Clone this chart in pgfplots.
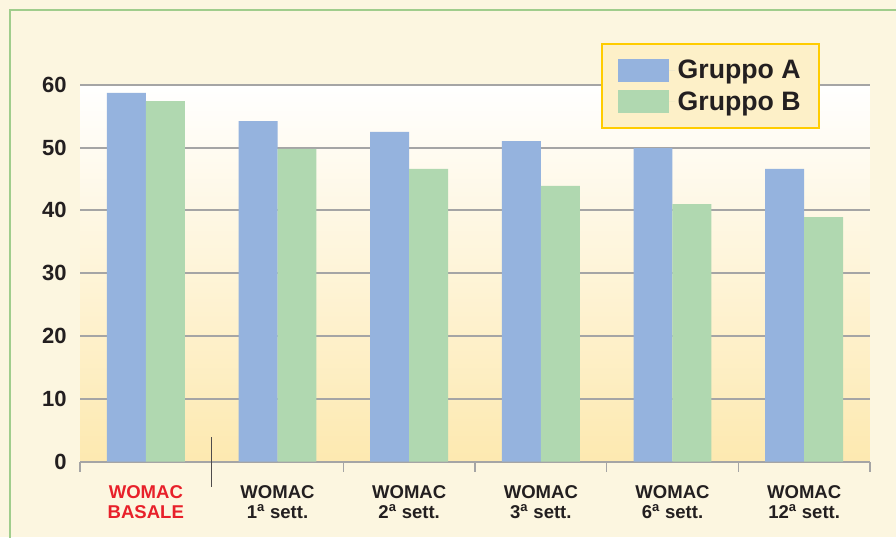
\documentclass[border=0pt]{standalone}
\usepackage{pgfplots}
\pgfplotsset{compat=1.18}
\usepackage{fontspec}
\setmainfont{Liberation Sans}
\definecolor{cream}{RGB}{252,246,224}
\definecolor{framegreen}{RGB}{160,205,140}
\definecolor{barA}{RGB}{149,179,222}
\definecolor{barB}{RGB}{176,216,176}
\definecolor{gridgray}{RGB}{165,165,165}
\definecolor{plotbottom}{RGB}{253,233,176}
\definecolor{legfill}{RGB}{253,240,200}
\definecolor{legborder}{RGB}{255,204,0}
\definecolor{txt}{RGB}{35,31,32}
\definecolor{womacred}{RGB}{232,32,42}
\begin{document}
\begin{tikzpicture}
\fill[cream] (0,0) rectangle (672pt,402.75pt);
\draw[framegreen,line width=1.5pt] (7.5pt,-2pt) -- (7.5pt,395.25pt) -- (674pt,395.25pt);
\begin{axis}[
  at={(60pt,56.625pt)}, anchor=south west,
  scale only axis, width=592.5pt, height=282.6pt,
  xmin=-0.5, xmax=5.5, ymin=0, ymax=60,
  ybar=0pt, bar width=0.296,
  axis x line*=bottom, axis y line*=left,
  y axis line style={draw=none},
  x axis line style={draw=gridgray,line width=1pt,-},
  axis background/.style={shade, top color=white, bottom color=plotbottom},
  ytick={0,10,...,60},
  ymajorgrids, grid style={gridgray,line width=1.5pt},
  xtick={0,...,5},
  minor xtick={-0.5,0.5,...,5.5},
  tick align=outside,
  major tick length=0pt, minor tick length=7.5pt,
  minor tick style={gridgray,line width=1pt},
  xticklabels={{\textcolor{womacred}{WOMAC}\\\textcolor{womacred}{BASALE}},
    {WOMAC\\1\textsuperscript{a} sett.},
    {WOMAC\\2\textsuperscript{a} sett.},
    {WOMAC\\3\textsuperscript{a} sett.},
    {WOMAC\\6\textsuperscript{a} sett.},
    {WOMAC\\12\textsuperscript{a} sett.}},
  xticklabel style={align=center, font=\fontsize{13.9}{15}\selectfont\bfseries, text=txt, yshift=-14.75pt},
  yticklabel style={font=\fontsize{16.5}{18}\selectfont\bfseries, text=txt, xshift=-6.5pt},
  /pgf/number format/assume math mode=true,
  clip=false,
  legend style={at={(0.6595,1.1107)}, anchor=north west, fill=legfill, draw=legborder,
    line width=1.5pt, font=\fontsize{20}{24}\selectfont\bfseries, text=txt,
    inner xsep=12pt, inner ysep=10pt, row sep=4.25pt},
  legend cell align=left,
]
\addplot[fill=barA, draw=none, legend image code/.code={\fill[barA] (0pt,-8.6pt) rectangle (38.25pt,8.6pt); \path (0pt,0pt) -- (42.75pt,0pt);}]
  coordinates {(0,58.7) (1,54.2) (2,52.5) (3,51.0) (4,49.9) (5,46.6)};
\addplot[fill=barB, draw=none, legend image code/.code={\fill[barB] (0pt,-8.6pt) rectangle (38.25pt,8.6pt); \path (0pt,0pt) -- (42.75pt,0pt);}]
  coordinates {(0,57.4) (1,49.8) (2,46.6) (3,43.9) (4,41.0) (5,38.9)};
\legend{Gruppo A, Gruppo B}
\draw[txt!80,line width=0.8pt] (axis cs:0.5,3.9) -- (axis cs:0.5,-4.0);
\end{axis}
\pgfresetboundingbox
\useasboundingbox (0,0) rectangle (672pt,402.75pt);
\end{tikzpicture}
\end{document}
